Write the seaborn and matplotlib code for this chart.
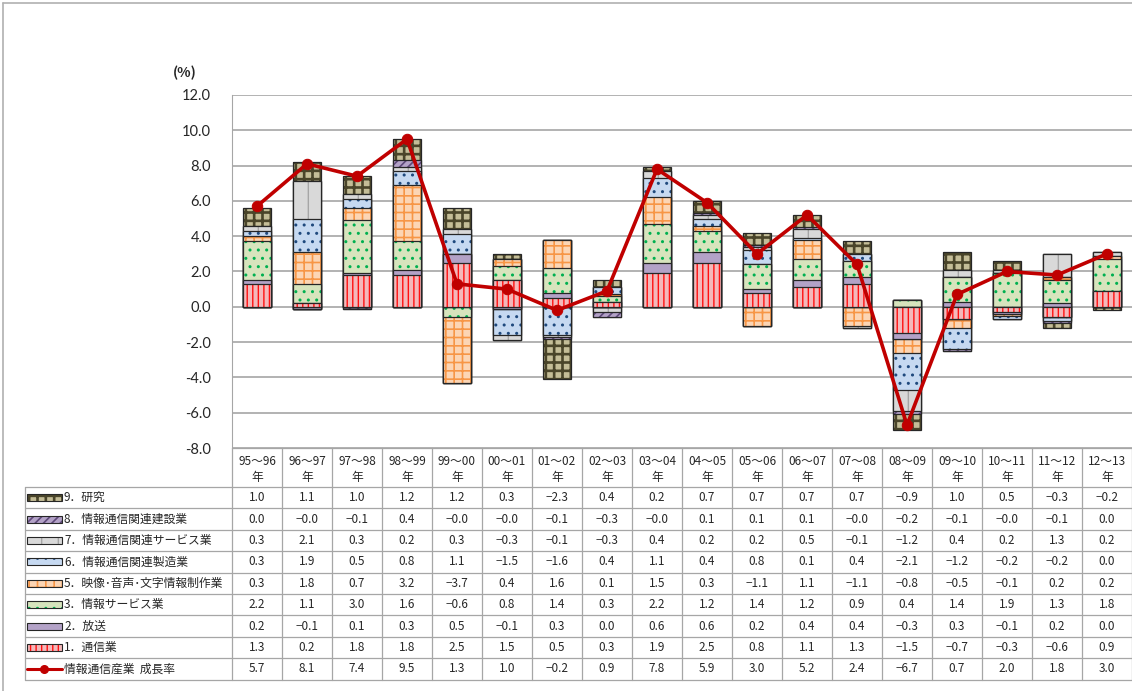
import numpy as np
import matplotlib
matplotlib.use("Agg")
import matplotlib.pyplot as plt
from matplotlib.patches import Rectangle
import seaborn as sns

# ────────── data (寄与度, %) ──────────
periods = ["95～96", "96～97", "97～98", "98～99", "99～00", "00～01", "01～02", "02～03", "03～04",
           "04～05", "05～06", "06～07", "07～08", "08～09", "09～10", "10～11", "11～12", "12～13"]
tsushin  = [1.3, 0.2, 1.8, 1.8, 2.5, 1.5, 0.5, 0.3, 1.9, 2.5, 0.8, 1.1, 1.3, -1.5, -0.7, -0.3, -0.6, 0.9]
hoso     = [0.2, -0.1, 0.1, 0.3, 0.5, -0.1, 0.3, 0.0, 0.6, 0.6, 0.2, 0.4, 0.4, -0.3, 0.3, -0.1, 0.2, 0.0]
joho_sv  = [2.2, 1.1, 3.0, 1.6, -0.6, 0.8, 1.4, 0.3, 2.2, 1.2, 1.4, 1.2, 0.9, 0.4, 1.4, 1.9, 1.3, 1.8]
eizo     = [0.3, 1.8, 0.7, 3.2, -3.7, 0.4, 1.6, 0.1, 1.5, 0.3, -1.1, 1.1, -1.1, -0.8, -0.5, -0.1, 0.2, 0.2]
seizo    = [0.3, 1.9, 0.5, 0.8, 1.1, -1.5, -1.6, 0.4, 1.1, 0.4, 0.8, 0.1, 0.4, -2.1, -1.2, -0.2, -0.2, 0.0]
kanren_sv = [0.3, 2.1, 0.3, 0.2, 0.3, -0.3, -0.1, -0.3, 0.4, 0.2, 0.2, 0.5, -0.1, -1.2, 0.4, 0.2, 1.3, 0.2]
kensetsu = [0.0, -0.0, -0.1, 0.4, -0.0, -0.0, -0.1, -0.3, -0.0, 0.1, 0.1, 0.1, -0.0, -0.2, -0.1, -0.0, -0.1, 0.0]
kenkyu   = [1.0, 1.1, 1.0, 1.2, 1.2, 0.3, -2.3, 0.4, 0.2, 0.7, 0.7, 0.7, 0.7, -0.9, 1.0, 0.5, -0.3, -0.2]
growth   = [5.7, 8.1, 7.4, 9.5, 1.3, 1.0, -0.2, 0.9, 7.8, 5.9, 3.0, 5.2, 2.4, -6.7, 0.7, 2.0, 1.8, 3.0]

labels = ["1．通信業", "2．放送", "3．情報サービス業", "5．映像･音声･文字情報制作業",
          "6．情報通信関連製造業", "7．情報通信関連サービス業", "8．情報通信関連建設業", "9．研究"]
series = [tsushin, hoso, joho_sv, eizo, seizo, kanren_sv, kensetsu, kenkyu]
growth_label = "情報通信産業  成長率"

# ────────── styles (face, hatch, hatch colour, hatch lw) ──────────
STYLES = [("#F4B8BA", "|||", "#FF1010", 1.0),
          ("#B3A2C7", None, "#B3A2C7", 1.0),
          ("#D7E4BD", "..", "#00B050", 1.0),
          ("#FCD5B4", "++", "#F79646", 1.2),
          ("#C6D9F1", "..", "#1F497D", 1.0),
          ("#D9D9D9", "|", "#A6A6A6", 1.0),
          ("#B3A2C7", "////", "#5F497A", 1.2),
          ("#C4BD97", "++", "#4A452A", 1.9)]
LINE_C = "#C00000"
EDGE_C = "#262626"
GRID_C = "#A6A6A6"

sns.set_style("white")
plt.rcParams["font.family"] = ["Noto Sans CJK JP", "DejaVu Sans"]

W, H = 1132, 691
X0, X1, YT, YB = 232, 1132, 95, 448
fig = plt.figure(figsize=(W / 100, H / 100), dpi=100)
ax = fig.add_axes([X0 / W, 1 - YB / H, (X1 - X0) / W, (YB - YT) / H])
ax.patch.set_alpha(0)

vals = np.array(series, dtype=float)
pos = np.where(vals > 0, vals, 0).cumsum(axis=0)
neg = np.where(vals < 0, vals, 0).cumsum(axis=0)

# 누적 막대: 위 층부터 그리고 아래 층이 덮음
for k in range(len(series) - 1, -1, -1):
    face, hatch, hc, hlw = STYLES[k]
    for cum in (pos[k], neg[k]):
        h = np.where(np.abs(cum) < 1e-9, np.nan, cum)
        if np.isnan(h).all():
            continue
        with plt.rc_context({"hatch.linewidth": hlw}):
            sns.barplot(x=periods, y=h, order=periods, width=0.56, saturation=1,
                        errorbar=None, color=face, hatch=hatch, edgecolor=hc,
                        linewidth=0, ax=ax)
        sns.barplot(x=periods, y=h, order=periods, width=0.56, fill=False,
                    errorbar=None, edgecolor=EDGE_C, linewidth=0.9, ax=ax)

sns.lineplot(x=periods, y=growth, sort=False, color=LINE_C, linewidth=2.6,
             marker="o", markersize=7.5, markeredgecolor=LINE_C, ax=ax, zorder=5)

ax.set_xlim(-0.5, len(periods) - 0.5)
ax.set_ylim(-8, 12)
ax.set_yticks(np.arange(-8, 12.1, 2))
ax.set_yticklabels([f"{v:.1f}" for v in np.arange(-8, 12.1, 2)], fontsize=10.5,
                   family=["Lato", "DejaVu Sans"])
ax.set_xticks(range(len(periods)))
ax.set_xticklabels([])
ax.tick_params(axis="x", length=0)
ax.tick_params(axis="y", length=5, color=GRID_C, pad=10)
ax.yaxis.grid(True, color=GRID_C, lw=1.2)
ax.xaxis.grid(False)
ax.set_axisbelow(True)
for s in ("top", "right", "bottom"):
    ax.spines[s].set_visible(False)
ax.spines["left"].set_color(GRID_C)
ax.set_xlabel("")
ax.set_ylabel("")
fig.text(185 / W, 1 - 73 / H, "(%)", fontsize=10, fontweight="bold", ha="center", va="center")

# ────────── data table ──────────
tab = fig.add_axes([0, 0, 1, 1])
tab.set_xlim(0, W)
tab.set_ylim(H, 0)
tab.set_axis_off()

LX, ROW_TOP, ROW_H = 25, 487, 21.4
rows = [(labels[k], series[k], STYLES[k]) for k in range(len(series) - 1, -1, -1)]
rows.append((growth_label, growth, None))
n_rows = len(rows)
col_w = (X1 - X0) / len(periods)
bottom = ROW_TOP + n_rows * ROW_H
gk = dict(color=GRID_C, lw=0.9)

tab.plot([X0, X1], [YB, YB], **gk)
for r in range(n_rows + 1):
    y = ROW_TOP + r * ROW_H
    tab.plot([LX, X1], [y, y], **gk)
for i in range(len(periods) + 1):
    x = X0 + i * col_w
    tab.plot([x, x], [YB, bottom], **gk)
tab.plot([LX, LX], [ROW_TOP, bottom], **gk)
# outer frame
tab.plot([3, 3], [3, H], color="#B0B0B0", lw=1.2)
tab.plot([3, W], [3, 3], color="#B0B0B0", lw=1.2)

for i, p in enumerate(periods):
    cx = X0 + (i + 0.5) * col_w
    tab.text(cx, 461, p, ha="center", va="center", fontsize=8.5)
    tab.text(cx, 477, "年", ha="center", va="center", fontsize=8.5)

for r, (lab, v, st) in enumerate(rows):
    yc = ROW_TOP + (r + 0.5) * ROW_H
    if st is None:
        tab.plot([27, 62], [yc, yc], color=LINE_C, lw=2.2)
        tab.plot([44], [yc], marker="o", ms=5.5, color=LINE_C)
    else:
        face, hatch, hc, hlw = st
        with plt.rc_context({"hatch.linewidth": hlw}):
            tab.add_patch(Rectangle((27, yc - 3.5), 35, 7, facecolor=face, hatch=hatch,
                                    edgecolor=hc, lw=0))
        tab.add_patch(Rectangle((27, yc - 3.5), 35, 7, fill=False, edgecolor=EDGE_C, lw=0.8))
    tab.text(64, yc, lab, ha="left", va="center", fontsize=8.5)
    for i, x in enumerate(v):
        cx = X0 + (i + 0.5) * col_w
        tab.text(cx, yc, f"{x:.1f}".replace("-", "−"), ha="center", va="center", fontsize=8.5)

fig.savefig("out.png", dpi=100)
